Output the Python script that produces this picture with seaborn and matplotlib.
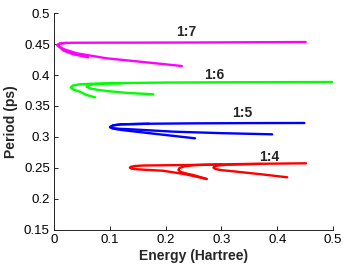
import matplotlib
matplotlib.use("Agg")
import matplotlib.pyplot as plt
import seaborn as sns
import pandas as pd

# ---- data (energy in Hartree, period in ps) ----
# 1:7 (magenta)
m_long_E = [0.451, 0.35, 0.25, 0.15, 0.0645, 0.035, 0.0227, 0.0106, 0.0059, 0.0106, 0.0197, 0.0406, 0.0944, 0.154, 0.229]
m_long_P = [0.4532, 0.4528, 0.4524, 0.4522, 0.4521, 0.4520, 0.4518, 0.4508, 0.4482, 0.4450, 0.4410, 0.4350, 0.4269, 0.4215, 0.4145]
m_short_E = [0.0227, 0.0106, 0.0059, 0.0106, 0.0167, 0.0346, 0.0615]
m_short_P = [0.4518, 0.4508, 0.4482, 0.4447, 0.4395, 0.4334, 0.4285]

# 1:6 (green)
g_outer_E = [0.4988, 0.35, 0.20, 0.10, 0.0645, 0.0450, 0.0340, 0.0299, 0.0340, 0.0450, 0.0585, 0.0735]
g_outer_P = [0.3887, 0.3884, 0.3878, 0.3868, 0.3858, 0.3848, 0.3830, 0.3800, 0.3768, 0.3735, 0.3677, 0.3640]
g_inner_E = [0.12, 0.0760, 0.0620, 0.0585, 0.0640, 0.0800, 0.0944, 0.130, 0.178]
g_inner_P = [0.3866, 0.3855, 0.3835, 0.3811, 0.3785, 0.3758, 0.3742, 0.3712, 0.3689]

# 1:5 (blue)
b_long_E = [0.4486, 0.35, 0.25, 0.17, 0.120, 0.106, 0.1004, 0.105, 0.118, 0.136, 0.214, 0.30, 0.391]
b_long_P = [0.3226, 0.3224, 0.3220, 0.3214, 0.3204, 0.3188, 0.3160, 0.3142, 0.3132, 0.3125, 0.3086, 0.3062, 0.3043]
b_short_E = [0.17, 0.120, 0.106, 0.1004, 0.105, 0.114, 0.124, 0.184, 0.2527]
b_short_P = [0.3214, 0.3204, 0.3188, 0.3160, 0.3138, 0.3122, 0.3110, 0.3048, 0.2979]

# 1:4 (red)
r_outer_E = [0.4516, 0.35, 0.2378, 0.160, 0.145, 0.138, 0.136, 0.139, 0.148, 0.165, 0.196, 0.235, 0.2736]
r_outer_P = [0.2576, 0.2566, 0.2548, 0.2540, 0.2532, 0.2520, 0.2505, 0.2490, 0.2480, 0.2470, 0.2455, 0.2400, 0.2323]
r_mid_E = [0.30, 0.250, 0.233, 0.225, 0.223, 0.226, 0.235, 0.250, 0.2736]
r_mid_P = [0.2560, 0.2545, 0.2525, 0.2500, 0.2470, 0.2440, 0.2415, 0.2385, 0.2323]
r_right_E = [0.37, 0.310, 0.294, 0.287, 0.2857, 0.290, 0.300, 0.3154, 0.37, 0.418]
r_right_P = [0.2566, 0.2552, 0.2540, 0.2525, 0.2505, 0.2482, 0.2465, 0.2452, 0.2400, 0.2350]

labels = ["1:7", "1:6", "1:5", "1:4"]
label_E = [0.2378, 0.2872, 0.3375, 0.3865]
label_P = [0.4699, 0.4000, 0.3382, 0.2683]

x_ticks = [0, 0.1, 0.2, 0.3, 0.4, 0.5]
y_ticks = [0.15, 0.2, 0.25, 0.3, 0.35, 0.4, 0.45, 0.5]

curves = [
    (m_long_E, m_long_P, "#ff00ff"),
    (m_short_E, m_short_P, "#ff00ff"),
    (g_outer_E, g_outer_P, "#00ff00"),
    (g_inner_E, g_inner_P, "#00ff00"),
    (b_long_E, b_long_P, "#0000ff"),
    (b_short_E, b_short_P, "#0000ff"),
    (r_outer_E, r_outer_P, "#ff0000"),
    (r_mid_E, r_mid_P, "#ff0000"),
    (r_right_E, r_right_P, "#ff0000"),
]

sns.set_style("ticks")
plt.rcParams["font.family"] = ["Liberation Sans", "DejaVu Sans"]

fig = plt.figure(figsize=(3.47, 2.67), dpi=100)
ax = fig.add_axes([0.1556, 0.1386, 0.8041, 0.8127])

for E, P, c in curves:
    df = pd.DataFrame({"E": E, "P": P})
    sns.lineplot(data=df, x="E", y="P", sort=False, estimator=None,
                 color=c, linewidth=1.7, ax=ax)

for t, e, p in zip(labels, label_E, label_P):
    ax.text(e, p, t, ha="center", va="center", fontsize=10, fontweight="bold")

ax.set_xlim(0, 0.5)
ax.set_ylim(0.15, 0.5)
ax.set_xticks(x_ticks)
ax.set_xticklabels(["0", "0.1", "0.2", "0.3", "0.4", "0.5"])
ax.set_yticks(y_ticks)
ax.set_yticklabels(["0.15", "0.2", "0.25", "0.3", "0.35", "0.4", "0.45", "0.5"])
ax.tick_params(direction="in", length=3, width=0.6, labelsize=9.5, colors="black", pad=3)
for s in ["top", "right"]:
    ax.spines[s].set_visible(False)
for s in ["left", "bottom"]:
    ax.spines[s].set_linewidth(0.7)
    ax.spines[s].set_color("#222222")
ax.set_xlabel("Energy (Hartree)", fontsize=10, fontweight="bold", labelpad=2)
ax.set_ylabel("Period (ps)", fontsize=10, fontweight="bold", labelpad=4)

fig.savefig("out.png", dpi=100)
